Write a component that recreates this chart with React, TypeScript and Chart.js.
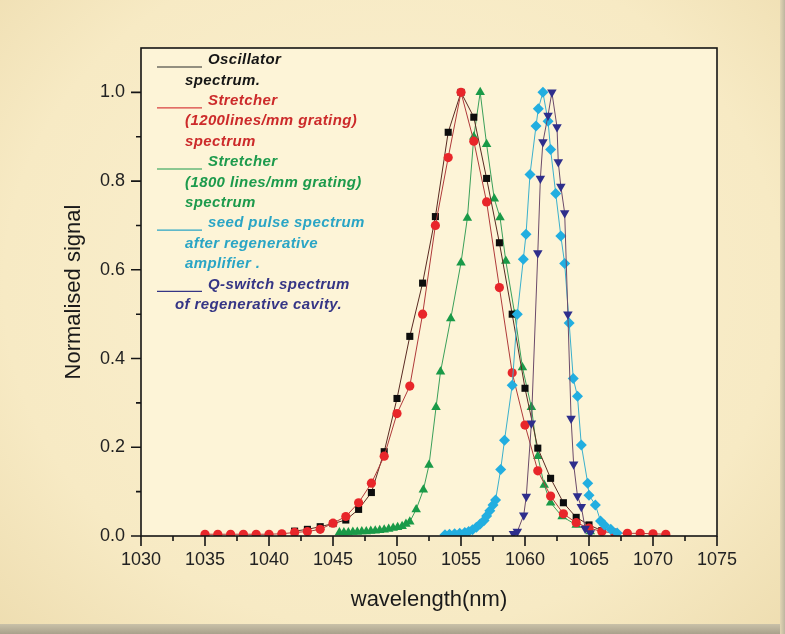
import React, { useEffect, useRef } from "react";
import { Chart, registerables } from "chart.js";

Chart.register(...registerables);

// ---------- data ----------
const xTickValues = [1030, 1035, 1040, 1045, 1050, 1055, 1060, 1065, 1070, 1075];
const yTickValues = [0, 0.2, 0.4, 0.6, 0.8, 1.0];

const oscWl = [1042, 1043, 1044, 1045, 1046, 1047, 1048, 1049, 1050, 1051, 1052, 1053, 1054, 1055, 1056, 1057, 1058, 1059, 1060, 1061, 1062, 1063, 1064, 1065, 1066];
const oscSig = [0.011, 0.015, 0.021, 0.028, 0.036, 0.06, 0.098, 0.19, 0.31, 0.45, 0.57, 0.72, 0.91, 1.0, 0.944, 0.806, 0.661, 0.5, 0.333, 0.198, 0.13, 0.075, 0.042, 0.025, 0.012];

const str1200Wl = [1035, 1036, 1037, 1038, 1039, 1040, 1041, 1042, 1043, 1044, 1045, 1046, 1047, 1048, 1049, 1050, 1051, 1052, 1053, 1054, 1055, 1056, 1057, 1058, 1059, 1060, 1061, 1062, 1063, 1064, 1065, 1066, 1067, 1068, 1069, 1070, 1071];
const str1200Sig = [0.004, 0.004, 0.004, 0.004, 0.004, 0.004, 0.005, 0.008, 0.01, 0.015, 0.029, 0.044, 0.075, 0.119, 0.18, 0.276, 0.338, 0.5, 0.7, 0.853, 1.0, 0.89, 0.753, 0.56, 0.368, 0.25, 0.147, 0.09, 0.05, 0.03, 0.018, 0.01, 0.007, 0.006, 0.006, 0.005, 0.004];

const str1800Wl = [1045.5, 1045.85, 1046.2, 1046.55, 1046.9, 1047.25, 1047.6, 1047.95, 1048.3, 1048.65, 1049.0, 1049.35, 1049.7, 1050.05, 1050.4, 1050.7, 1051.0, 1051.5, 1052.06, 1052.5, 1053.05, 1053.4, 1054.2, 1055.0, 1055.5, 1056.0, 1056.5, 1057.0, 1057.6, 1058.05, 1058.5, 1059.2, 1059.8, 1060.5, 1061.0, 1061.5, 1062.0, 1062.9, 1064.0, 1065.1];
const str1800Sig = [0.008, 0.008, 0.008, 0.009, 0.009, 0.01, 0.01, 0.011, 0.012, 0.013, 0.014, 0.016, 0.018, 0.02, 0.022, 0.027, 0.032, 0.06, 0.104, 0.16, 0.29, 0.37, 0.49, 0.616, 0.717, 0.9, 1.0, 0.883, 0.76, 0.718, 0.62, 0.5, 0.38, 0.29, 0.18, 0.115, 0.075, 0.044, 0.025, 0.01];

const seedWl = [1053.75, 1054.1, 1054.5, 1054.9, 1055.3, 1055.6, 1055.9, 1056.2, 1056.5, 1056.8, 1057.0, 1057.25, 1057.5, 1057.7, 1058.1, 1058.4, 1059.0, 1059.4, 1059.87, 1060.08, 1060.39, 1060.86, 1061.04, 1061.4, 1061.8, 1062.0, 1062.4, 1062.8, 1063.1, 1063.45, 1063.77, 1064.1, 1064.4, 1064.9, 1065.0, 1065.5, 1065.9, 1066.2, 1066.7, 1067.2];
const seedSig = [0.003, 0.004, 0.005, 0.006, 0.008, 0.01, 0.014, 0.02, 0.027, 0.035, 0.045, 0.057, 0.07, 0.081, 0.15, 0.216, 0.34, 0.5, 0.624, 0.68, 0.815, 0.924, 0.963, 1.0, 0.935, 0.871, 0.772, 0.676, 0.614, 0.48, 0.355, 0.315, 0.205, 0.119, 0.092, 0.07, 0.034, 0.025, 0.015, 0.007];

const qswWl = [1059.1, 1059.4, 1059.9, 1060.1, 1060.5, 1061.0, 1061.2, 1061.4, 1061.8, 1062.1, 1062.5, 1062.6, 1062.8, 1063.1, 1063.35, 1063.6, 1063.8, 1064.1, 1064.4, 1064.7, 1065.1];
const qswSig = [0.005, 0.01, 0.047, 0.089, 0.254, 0.638, 0.806, 0.888, 0.948, 1.0, 0.922, 0.843, 0.788, 0.728, 0.5, 0.265, 0.162, 0.09, 0.066, 0.017, 0.007];

const legendEntries = [
  { color: "#151515", line: "#2a2a2a", lines: ["Oscillator", "spectrum."] },
  { color: "#cc2a2a", line: "#d84040", lines: ["Stretcher", "(1200lines/mm grating)", "spectrum"] },
  { color: "#1c9a4c", line: "#1c9a4c", lines: ["Stretcher", "(1800 lines/mm grating)", "spectrum"] },
  { color: "#2aa5c5", line: "#2aa5c5", lines: ["seed pulse spectrum", "after regenerative", "amplifier ."] },
  { color: "#353585", line: "#353585", lines: ["Q-switch spectrum", "of regenerative cavity."] },
];

const FONT = "Arial, 'Liberation Sans', sans-serif";

const pts = (xs: number[], ys: number[]) => xs.map((x, i) => ({ x, y: ys[i] }));

const bgPlugin = {
  id: "plotBg",
  beforeDraw(chart: any) {
    const { ctx, chartArea } = chart;
    const { left, right, top, bottom } = chartArea;
    ctx.save();
    ctx.fillStyle = "#FDF4D7";
    ctx.fillRect(left, top, right - left, bottom - top);
    ctx.restore();
  },
};

const framePlugin = {
  id: "frame",
  afterDatasetsDraw(chart: any) {
    const { ctx, chartArea, scales } = chart;
    const { left, right, top, bottom } = chartArea;
    const xs = scales.x;
    const ys = scales.y;
    ctx.save();
    ctx.strokeStyle = "#151515";
    ctx.lineWidth = 1.6;
    ctx.strokeRect(left, top, right - left, bottom - top);
    ctx.beginPath();
    for (let i = 0; i < yTickValues.length; i++) {
      const v = yTickValues[i];
      const py = ys.getPixelForValue(v);
      ctx.moveTo(left, py);
      ctx.lineTo(left - 10, py);
      const m = v + 0.1;
      if (m < 1.1) {
        const pm = ys.getPixelForValue(m);
        ctx.moveTo(left, pm);
        ctx.lineTo(left - 5, pm);
      }
    }
    for (let i = 0; i < xTickValues.length; i++) {
      const v = xTickValues[i];
      const px = xs.getPixelForValue(v);
      ctx.moveTo(px, bottom);
      ctx.lineTo(px, bottom + 10);
      if (i < xTickValues.length - 1) {
        const pm = xs.getPixelForValue(v + 2.5);
        ctx.moveTo(pm, bottom);
        ctx.lineTo(pm, bottom + 5);
      }
    }
    ctx.stroke();
    ctx.restore();
  },
};

const legendPlugin = {
  id: "textLegend",
  afterDraw(chart: any) {
    const { ctx, chartArea } = chart;
    const x0 = chartArea.left;
    const y0 = chartArea.top;
    ctx.save();
    ctx.font = `italic bold 15px ${FONT}`;
    ctx.textBaseline = "middle";
    ctx.textAlign = "left";
    try {
      (ctx as any).letterSpacing = "0.4px";
    } catch (e) {}
    const step = 20.4;
    let row = 0;
    legendEntries.forEach((entry, ei) => {
      const yFirst = y0 + 12 + row * step;
      ctx.strokeStyle = entry.line;
      ctx.lineWidth = 1.2;
      ctx.beginPath();
      ctx.moveTo(x0 + 16, yFirst + 7);
      ctx.lineTo(x0 + 61, yFirst + 7);
      ctx.stroke();
      ctx.fillStyle = entry.color;
      entry.lines.forEach((t, li) => {
        const ty = y0 + 12 + row * step;
        let tx = li === 0 ? x0 + 67 : x0 + 44;
        if (ei === legendEntries.length - 1 && li > 0) tx = x0 + 34;
        ctx.fillText(t, tx, ty);
        row++;
      });
    });
    ctx.restore();
  },
};

export default function App() {
  const canvasRef = useRef<HTMLCanvasElement | null>(null);

  useEffect(() => {
    document.body.style.margin = "0";
    const canvas = canvasRef.current;
    if (!canvas) return;
    const common = {
      showLine: true,
      borderWidth: 1,
      pointBorderWidth: 0,
      clip: 0,
      tension: 0,
    };
    const chart = new Chart(canvas, {
      type: "scatter",
      data: {
        datasets: [
          {
            ...common,
            label: "Oscillator spectrum.",
            data: pts(oscWl, oscSig),
            borderColor: "#5a2a22",
            pointStyle: "rect",
            pointRadius: 5,
            pointBackgroundColor: "#0d0d0d",
            pointBorderColor: "#0d0d0d",
            order: 3,
          },
          {
            ...common,
            label: "Stretcher (1200lines/mm grating) spectrum",
            data: pts(str1200Wl, str1200Sig),
            borderColor: "#b03a3a",
            pointStyle: "circle",
            pointRadius: 4.6,
            pointBackgroundColor: "#e8262a",
            pointBorderColor: "#e8262a",
            order: 2,
          },
          {
            ...common,
            label: "Stretcher (1800 lines/mm grating) spectrum",
            data: pts(str1800Wl, str1800Sig),
            borderColor: "#3aa05a",
            pointStyle: "triangle",
            pointRadius: 5.5,
            pointBackgroundColor: "#1a9a48",
            pointBorderColor: "#1a9a48",
            order: 4,
          },
          {
            ...common,
            label: "seed pulse spectrum after regenerative amplifier .",
            data: pts(seedWl, seedSig),
            borderColor: "#3ab0cc",
            pointStyle: "rectRot",
            pointRadius: 5.5,
            pointBackgroundColor: "#22aee0",
            pointBorderColor: "#22aee0",
            order: 1,
          },
          {
            ...common,
            label: "Q-switch spectrum of regenerative cavity.",
            data: pts(qswWl, qswSig),
            borderColor: "#6b4a6a",
            pointStyle: "triangle",
            pointRotation: 180,
            pointRadius: 5.5,
            pointBackgroundColor: "#2e2e8c",
            pointBorderColor: "#2e2e8c",
            order: 0,
          },
        ],
      },
      options: {
        animation: false,
        responsive: false,
        maintainAspectRatio: false,
        layout: { padding: { left: 0, right: 68, top: 48, bottom: 0 } },
        plugins: {
          legend: { display: false },
          tooltip: { enabled: false },
        },
        scales: {
          x: {
            type: "linear",
            min: 1030,
            max: 1075,
            afterBuildTicks: (scale: any) => {
              scale.ticks = xTickValues.map((v) => ({ value: v }));
            },
            afterFit: (scale: any) => {
              scale.height = 88;
            },
            grid: {
              drawOnChartArea: false,
              drawTicks: true,
              tickLength: 10,
              color: "rgba(0,0,0,0)",
            },
            border: { display: false },
            ticks: {
              padding: 3,
              color: "#222",
              font: { family: FONT, size: 18 },
              callback: (v: any) => String(v),
            },
            title: {
              display: true,
              text: "wavelength(nm)",
              color: "#1a1a1a",
              font: { family: FONT, size: 22 },
              padding: { top: 0, bottom: 11 },
            },
          },
          y: {
            type: "linear",
            min: 0,
            max: 1.1,
            afterBuildTicks: (scale: any) => {
              scale.ticks = yTickValues.map((v) => ({ value: v }));
            },
            afterFit: (scale: any) => {
              scale.width = 141;
            },
            grid: {
              drawOnChartArea: false,
              drawTicks: true,
              tickLength: 10,
              color: "rgba(0,0,0,0)",
            },
            border: { display: false },
            ticks: {
              padding: 6,
              color: "#222",
              font: { family: FONT, size: 18 },
              callback: (v: any) => Number(v).toFixed(1),
            },
            title: {
              display: true,
              text: "Normalised signal",
              color: "#1a1a1a",
              font: { family: FONT, size: 22 },
              padding: { top: 61, bottom: 0 },
            },
          },
        },
      },
      plugins: [bgPlugin, framePlugin, legendPlugin],
    } as any);
    return () => chart.destroy();
  }, []);

  return (
    <div
      style={{
        position: "absolute",
        left: 0,
        top: 0,
        width: 785,
        height: 634,
        overflow: "hidden",
        background:
          "radial-gradient(ellipse at 50% 45%, #FBF1D2 0%, #F7EAC4 70%, #EEDDB0 100%)",
      }}
    >
      <div
        style={{
          position: "absolute",
          left: 0,
          bottom: 0,
          width: 785,
          height: 10,
          background: "linear-gradient(#C9C1A8, #A9A18C)",
        }}
      />
      <div
        style={{
          position: "absolute",
          right: 0,
          top: 0,
          width: 5,
          height: 634,
          background: "linear-gradient(90deg, #E2D6B4, #BDB59F)",
        }}
      />
      <canvas
        ref={canvasRef}
        width={785}
        height={624}
        style={{ position: "absolute", left: 0, top: 0, width: 785, height: 624 }}
      />
    </div>
  );
}
